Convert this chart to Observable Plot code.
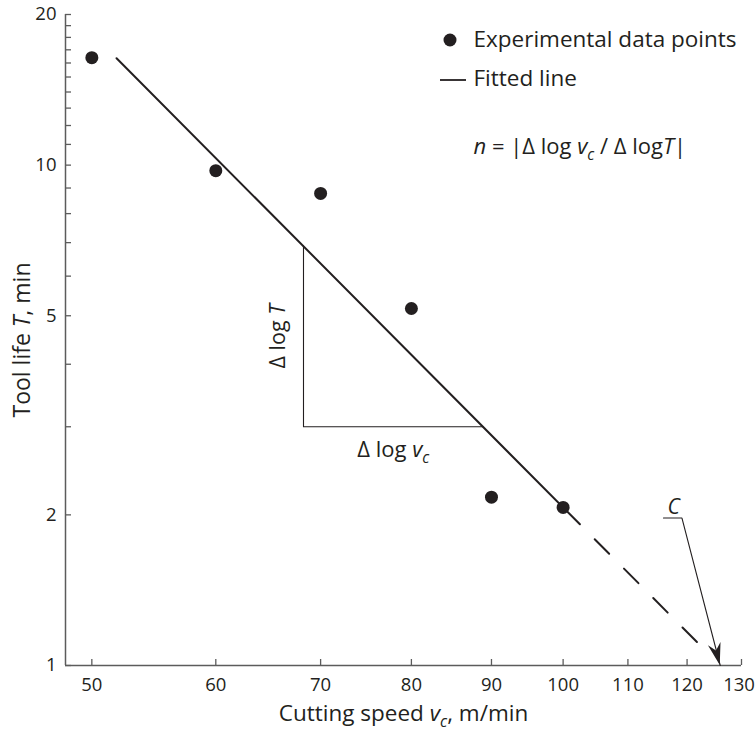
<!DOCTYPE html>
<html><head><meta charset="utf-8">
<script src="https://cdn.jsdelivr.net/npm/d3@7"></script>
<script src="https://cdn.jsdelivr.net/npm/@observablehq/plot@0.6"></script>
<style>html,body{margin:0;padding:0;background:#fff} svg{display:block}</style>
</head><body><div id="chart"></div>
<script>
// ---- data ----
const speeds   = [50, 60, 70, 80, 90, 100];          // cutting speed v_c, m/min
const toolLife = [16.4, 9.75, 8.78, 5.17, 2.17, 2.07]; // tool life T, min
const xTicks = [50, 60, 70, 80, 90, 100, 110, 120, 130];
const yTicks = [1, 2, 3, 4, 5, 6, 7, 8, 9, 10, 11, 12, 13, 14, 15, 16, 17, 18, 19, 20];
const yTickLabels = [1, 2, 5, 10, 20];
const xDomain = [48.1, 130];
const yDomain = [1, 20];
// fitted Taylor line (endpoints), solid and extrapolated (dashed) parts
const fitSolidV = [51.85, 102.5];
const fitSolidT = [16.35, 1.915];
const fitDashV  = [102.5, 122];
const fitDashT  = [1.915, 1.107];
// slope triangle
const triV = [68.26, 68.26, 88.9];
const triT = [6.9, 3, 3];
// constant C (v_c at T = 1 min) leader
const cLeaderV = [115.9, 119.1, 126];
const cLeaderT = [1.971, 1.971, 1];
const cLabelV = 117.67, cLabelT = 1.971;

// ---- text ----
const legendPoints = "Experimental data points";
const legendLine = "Fitted line";
const formula = [{t:"n",i:1},{t:" = |Δ log "},{t:"v",i:1},{t:"c",i:1,sub:1},{t:" / Δ log"},{t:"T",i:1},{t:"|"}];
const xTitle = [{t:"Cutting speed "},{t:"v",i:1},{t:"c",i:1,sub:1},{t:", m/min"}];
const yTitle = [{t:"Tool life "},{t:"T",i:1},{t:", min"}];
const dT = [{t:"Δ log "},{t:"T",i:1}];
const dV = [{t:"Δ log "},{t:"v",i:1},{t:"c",i:1,sub:1}];
const plain = segs => segs.map(s => s.t).join("");

// ---- styles ----
const FONT = "'Open Sans', sans-serif";
const INK = "#231f20";
const AXIS = "#5c5c5c";
const W = 755, H = 731, mL = 65, mR = 14, mT = 14, mB = 66;
const plotW = W - mL - mR, plotH = H - mT - mB;

const zip = (xs, ys) => xs.map((v, i) => ({v, T: ys[i]}));
const points = zip(speeds, toolLife);
const fitSolid = zip(fitSolidV, fitSolidT);
const fitDash = zip(fitDashV, fitDashT);
const triangle = zip(triV, triT);
const leader = zip(cLeaderV, cLeaderT);

function overlay(index, scales, values, dims) {
  const {x, y} = scales;
  const g = d3.create("svg:g");
  const ox = dims.marginLeft, oy = dims.marginTop;
  // legend symbols
  g.append("circle").attr("cx", ox + 385).attr("cy", oy + 26).attr("r", 6.5).attr("fill", INK);
  g.append("line").attr("x1", ox + 375).attr("x2", ox + 401).attr("y1", oy + 66).attr("y2", oy + 66)
    .attr("stroke", INK).attr("stroke-width", 1.8);
  // filled arrowhead at the end of the C leader
  const n = cLeaderV.length;
  const tip = [x(cLeaderV[n - 1]), y(cLeaderT[n - 1])];
  const from = [x(cLeaderV[n - 2]), y(cLeaderT[n - 2])];
  const dx = tip[0] - from[0], dy = tip[1] - from[1], len = Math.hypot(dx, dy);
  const ux = dx / len, uy = dy / len, nx = -uy, ny = ux;
  const L = 22, w = 6.5, notch = 15;
  const p = [
    tip,
    [tip[0] - L * ux + w * nx, tip[1] - L * uy + w * ny],
    [tip[0] - notch * ux, tip[1] - notch * uy],
    [tip[0] - L * ux - w * nx, tip[1] - L * uy - w * ny]
  ];
  g.append("path").attr("d", "M" + p.map(q => q.join(",")).join("L") + "Z").attr("fill", INK);
  return g.node();
}

const chart = Plot.plot({
  width: W, height: H,
  marginLeft: mL, marginRight: mR, marginTop: mT, marginBottom: mB,
  style: {fontFamily: FONT, fontSize: "18.5px", color: INK, background: "white", overflow: "visible"},
  x: {type: "log", domain: xDomain, ticks: xTicks, tickFormat: d => String(d), tickSize: 0, tickPadding: 12.5, label: null},
  y: {type: "log", domain: yDomain, ticks: yTickLabels, tickFormat: d => String(d), tickSize: 0, tickPadding: 9, label: null},
  marks: [
    Plot.ruleX([xDomain[0]], {stroke: AXIS, strokeWidth: 1.5}),
    Plot.ruleY([yDomain[0]], {stroke: AXIS, strokeWidth: 1.5}),
    Plot.tickX(xTicks, {x: d => d, insetTop: plotH - 6, stroke: AXIS, strokeWidth: 1.3}),
    Plot.tickY(yTicks, {y: d => d, insetRight: plotW - 6, stroke: AXIS, strokeWidth: 1.3}),
    Plot.line(triangle, {x: "v", y: "T", stroke: INK, strokeWidth: 1.1}),
    Plot.line(fitSolid, {x: "v", y: "T", stroke: INK, strokeWidth: 2}),
    Plot.line(fitDash, {x: "v", y: "T", stroke: INK, strokeWidth: 2, strokeDasharray: "20.5,21", strokeDashoffset: 20.5}),
    Plot.line(leader, {x: "v", y: "T", stroke: INK, strokeWidth: 1.1}),
    overlay,
    Plot.dot(points, {x: "v", y: "T", r: 6.5, fill: INK}),
    Plot.text([{v: cLabelV, T: cLabelT}], {x: "v", y: "T", text: () => "C", lineAnchor: "bottom", dy: -4.5, fontSize: 21, fontStyle: "italic", fill: INK}),
    Plot.text([plain(dT)], {x: () => triV[0], y: () => Math.sqrt(triT[0] * triT[1]), rotate: -90, textAnchor: "middle", lineAnchor: "bottom", dx: -18, fontSize: 21.5, fill: INK}),
    Plot.text([plain(dV)], {x: () => Math.sqrt(triV[1] * triV[2]), y: () => triT[1], textAnchor: "middle", lineAnchor: "bottom", dy: 30.3, fontSize: 22, fill: INK}),
    Plot.text([legendPoints], {frameAnchor: "top-left", dx: 408, dy: 32.7, textAnchor: "start", lineAnchor: "bottom", fontSize: 22.5, fill: INK}),
    Plot.text([legendLine], {frameAnchor: "top-left", dx: 408, dy: 71, textAnchor: "start", lineAnchor: "bottom", fontSize: 22.5, fill: INK}),
    Plot.text([plain(formula)], {frameAnchor: "top-left", dx: 408, dy: 139, textAnchor: "start", lineAnchor: "bottom", fontSize: 22, fill: INK}),
    Plot.text([plain(xTitle)], {frameAnchor: "bottom", dy: 55, textAnchor: "middle", lineAnchor: "bottom", fontSize: 22.5, fill: INK}),
    Plot.text([plain(yTitle)], {frameAnchor: "left", dx: -35.5, rotate: -90, textAnchor: "middle", lineAnchor: "bottom", fontSize: 23, fill: INK})
  ]
});

// italics and subscripts as real tspans
const NS = "http://www.w3.org/2000/svg";
function setRich(el, segs) {
  const fs = parseFloat(el.getAttribute("font-size")) || parseFloat(getComputedStyle(el).fontSize) || 20;
  el.textContent = "";
  let shift = 0;
  for (const s of segs) {
    const t = document.createElementNS(NS, "tspan");
    t.textContent = s.t;
    if (s.i) t.setAttribute("font-style", "italic");
    const target = s.sub ? fs * 0.28 : 0;
    if (target !== shift) { t.setAttribute("dy", (target - shift).toFixed(2)); shift = target; }
    if (s.sub) t.setAttribute("font-size", (fs * 0.7).toFixed(1));
    el.appendChild(t);
  }
}
document.getElementById("chart").appendChild(chart);
const rich = [formula, xTitle, yTitle, dT, dV];
chart.querySelectorAll("text").forEach(el => {
  const s = el.textContent;
  for (const segs of rich) if (plain(segs) === s) { setRich(el, segs); break; }
});
// keep the last x tick label inside the picture
chart.querySelectorAll("g[aria-label='x-axis tick label'] text, g[aria-label='x-axis'] text").forEach(el => {
  if (el.textContent === String(xTicks[xTicks.length - 1])) el.setAttribute("dx", "-2.5");
});
</script>
</body></html>
